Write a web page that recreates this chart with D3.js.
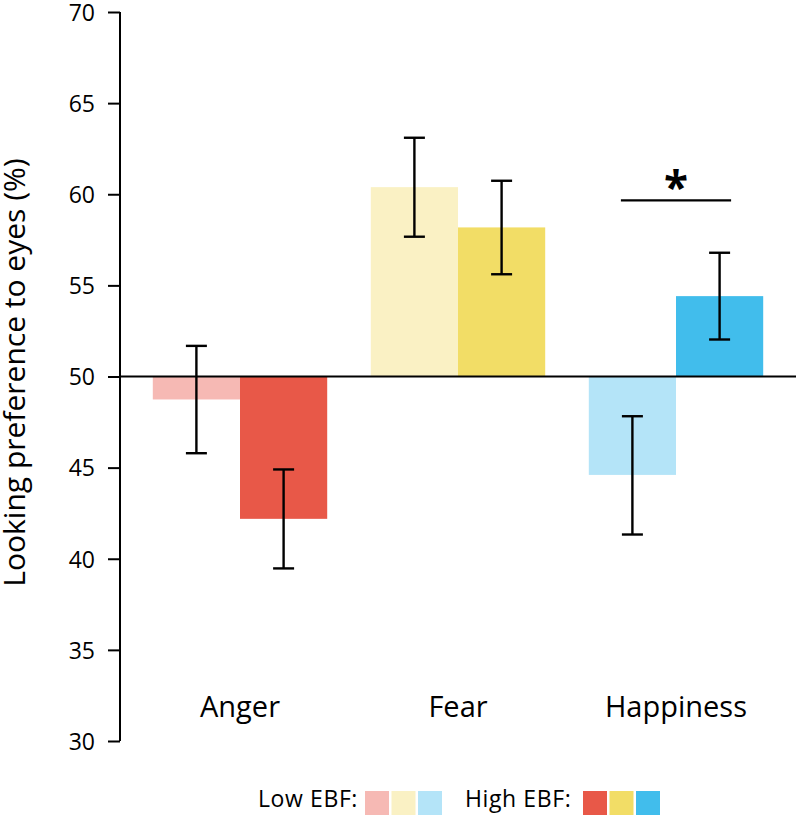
<!DOCTYPE html>
<html><head><meta charset="utf-8">
<script src="https://cdn.jsdelivr.net/npm/d3@7"></script>
<style>html,body{margin:0;padding:0;background:#fff;}svg{display:block;font-family:"Open Sans","Noto Sans",sans-serif;}</style>
</head><body>
<script>
const categories = ["Anger", "Fear", "Happiness"];
const groups = ["Low EBF", "High EBF"];
const lowValues = [48.74, 60.39, 44.6];
const highValues = [42.19, 58.18, 54.41];
const lowErrLo = [45.79, 57.67, 41.33];
const lowErrHi = [51.68, 63.1, 47.82];
const highErrLo = [39.47, 55.61, 52.03];
const highErrHi = [44.9, 60.74, 56.79];
const lowColors = ["#f6b9b4", "#faf1c4", "#b4e4f8"];
const highColors = ["#e85848", "#f2dd66", "#41bdec"];
const yTicks = [30, 35, 40, 45, 50, 55, 60, 65, 70];
const baselineValue = 50;
const sigCategory = "Happiness";
const sigValue = 59.66;
const sigLabel = "*";

const W = 796, H = 822;
const svg = d3.select("body").append("svg").attr("width", W).attr("height", H);

const y = d3.scaleLinear().domain([30, 70]).range([741, 12]);
const x = d3.scaleBand().domain(categories).range([131, 785]).paddingInner(0.2).paddingOuter(0.1);
const xi = d3.scaleBand().domain(groups).range([0, x.bandwidth()]);

const rows = categories.map((c, i) => ({
  c,
  bars: [
    {g: groups[0], v: lowValues[i], lo: lowErrLo[i], hi: lowErrHi[i], col: lowColors[i]},
    {g: groups[1], v: highValues[i], lo: highErrLo[i], hi: highErrHi[i], col: highColors[i]}
  ]
}));

const gCat = svg.selectAll("g.cat").data(rows).enter().append("g")
  .attr("class", "cat").attr("transform", d => `translate(${x(d.c)},0)`);

gCat.selectAll("rect").data(d => d.bars).enter().append("rect")
  .attr("x", d => xi(d.g))
  .attr("width", xi.bandwidth())
  .attr("y", d => Math.min(y(d.v), y(baselineValue)))
  .attr("height", d => Math.abs(y(d.v) - y(baselineValue)))
  .attr("fill", d => d.col);

svg.append("line").attr("x1", 120).attr("x2", W)
  .attr("y1", y(baselineValue)).attr("y2", y(baselineValue))
  .attr("stroke", "#000").attr("stroke-width", 2);

const capW = 10.5;
const eb = gCat.selectAll("g.eb").data(d => d.bars).enter().append("g")
  .attr("class", "eb")
  .attr("transform", d => `translate(${xi(d.g) + xi.bandwidth() / 2},0)`);
eb.append("line").attr("x1", 0).attr("x2", 0).attr("y1", d => y(d.lo)).attr("y2", d => y(d.hi))
  .attr("stroke", "#000").attr("stroke-width", 2.4);
eb.append("line").attr("x1", -capW).attr("x2", capW).attr("y1", d => y(d.lo)).attr("y2", d => y(d.lo))
  .attr("stroke", "#000").attr("stroke-width", 2.4);
eb.append("line").attr("x1", -capW).attr("x2", capW).attr("y1", d => y(d.hi)).attr("y2", d => y(d.hi))
  .attr("stroke", "#000").attr("stroke-width", 2.4);

const yAxis = d3.axisLeft(y).tickValues(yTicks).tickSize(12).tickPadding(13).tickFormat(d3.format("d"));
const ga = svg.append("g").attr("transform", "translate(120,0)").call(yAxis);
ga.select(".domain").attr("d", `M0,${y(30)}V${y(70)}`).attr("stroke-width", 2);
ga.selectAll(".tick line").attr("stroke-width", 2);
ga.selectAll(".tick text").attr("font-size", 23).attr("fill", "#000")
  .attr("font-family", "'Open Sans', sans-serif").attr("dy", "0.36em");

svg.append("text").attr("transform", `translate(25,${(y(30) + y(70)) / 2 - 4}) rotate(-90)`)
  .attr("text-anchor", "middle").attr("font-size", 30).attr("fill", "#000")
  .text("Looking preference to eyes (%)");

svg.selectAll("text.catlab").data(categories).enter().append("text")
  .attr("class", "catlab")
  .attr("x", d => x(d) + x.bandwidth() / 2).attr("y", 717)
  .attr("text-anchor", "middle").attr("font-size", 29).attr("font-weight", 500).attr("fill", "#000")
  .text(d => d);

const sx = x(sigCategory);
const sx1 = sx + xi.bandwidth() / 2 - capW - 1, sx2 = sx + xi.bandwidth() * 1.5 + capW + 1;
svg.append("line").attr("x1", sx1).attr("x2", sx2).attr("y1", y(sigValue)).attr("y2", y(sigValue))
  .attr("stroke", "#000").attr("stroke-width", 2.2);
svg.append("text").attr("x", (sx1 + sx2) / 2).attr("y", y(sigValue) + 3)
  .attr("text-anchor", "middle").attr("font-size", 44).attr("font-weight", "bold").text(sigLabel);

const leg = svg.append("g");
leg.append("text").attr("x", 258).attr("y", 807).attr("font-size", 23).attr("letter-spacing", 0.6).attr("fill", "#000").text("Low EBF:");
leg.selectAll("rect.l").data(lowColors).enter().append("rect").attr("class", "l")
  .attr("x", (d, i) => 365 + i * 26.5).attr("y", 791).attr("width", 24).attr("height", 24).attr("fill", d => d);
leg.append("text").attr("x", 465).attr("y", 807).attr("font-size", 23).attr("letter-spacing", 0.6).attr("fill", "#000").text("High EBF:");
leg.selectAll("rect.h").data(highColors).enter().append("rect").attr("class", "h")
  .attr("x", (d, i) => 583 + i * 26.5).attr("y", 791).attr("width", 24).attr("height", 24).attr("fill", d => d);
</script>
</body></html>
